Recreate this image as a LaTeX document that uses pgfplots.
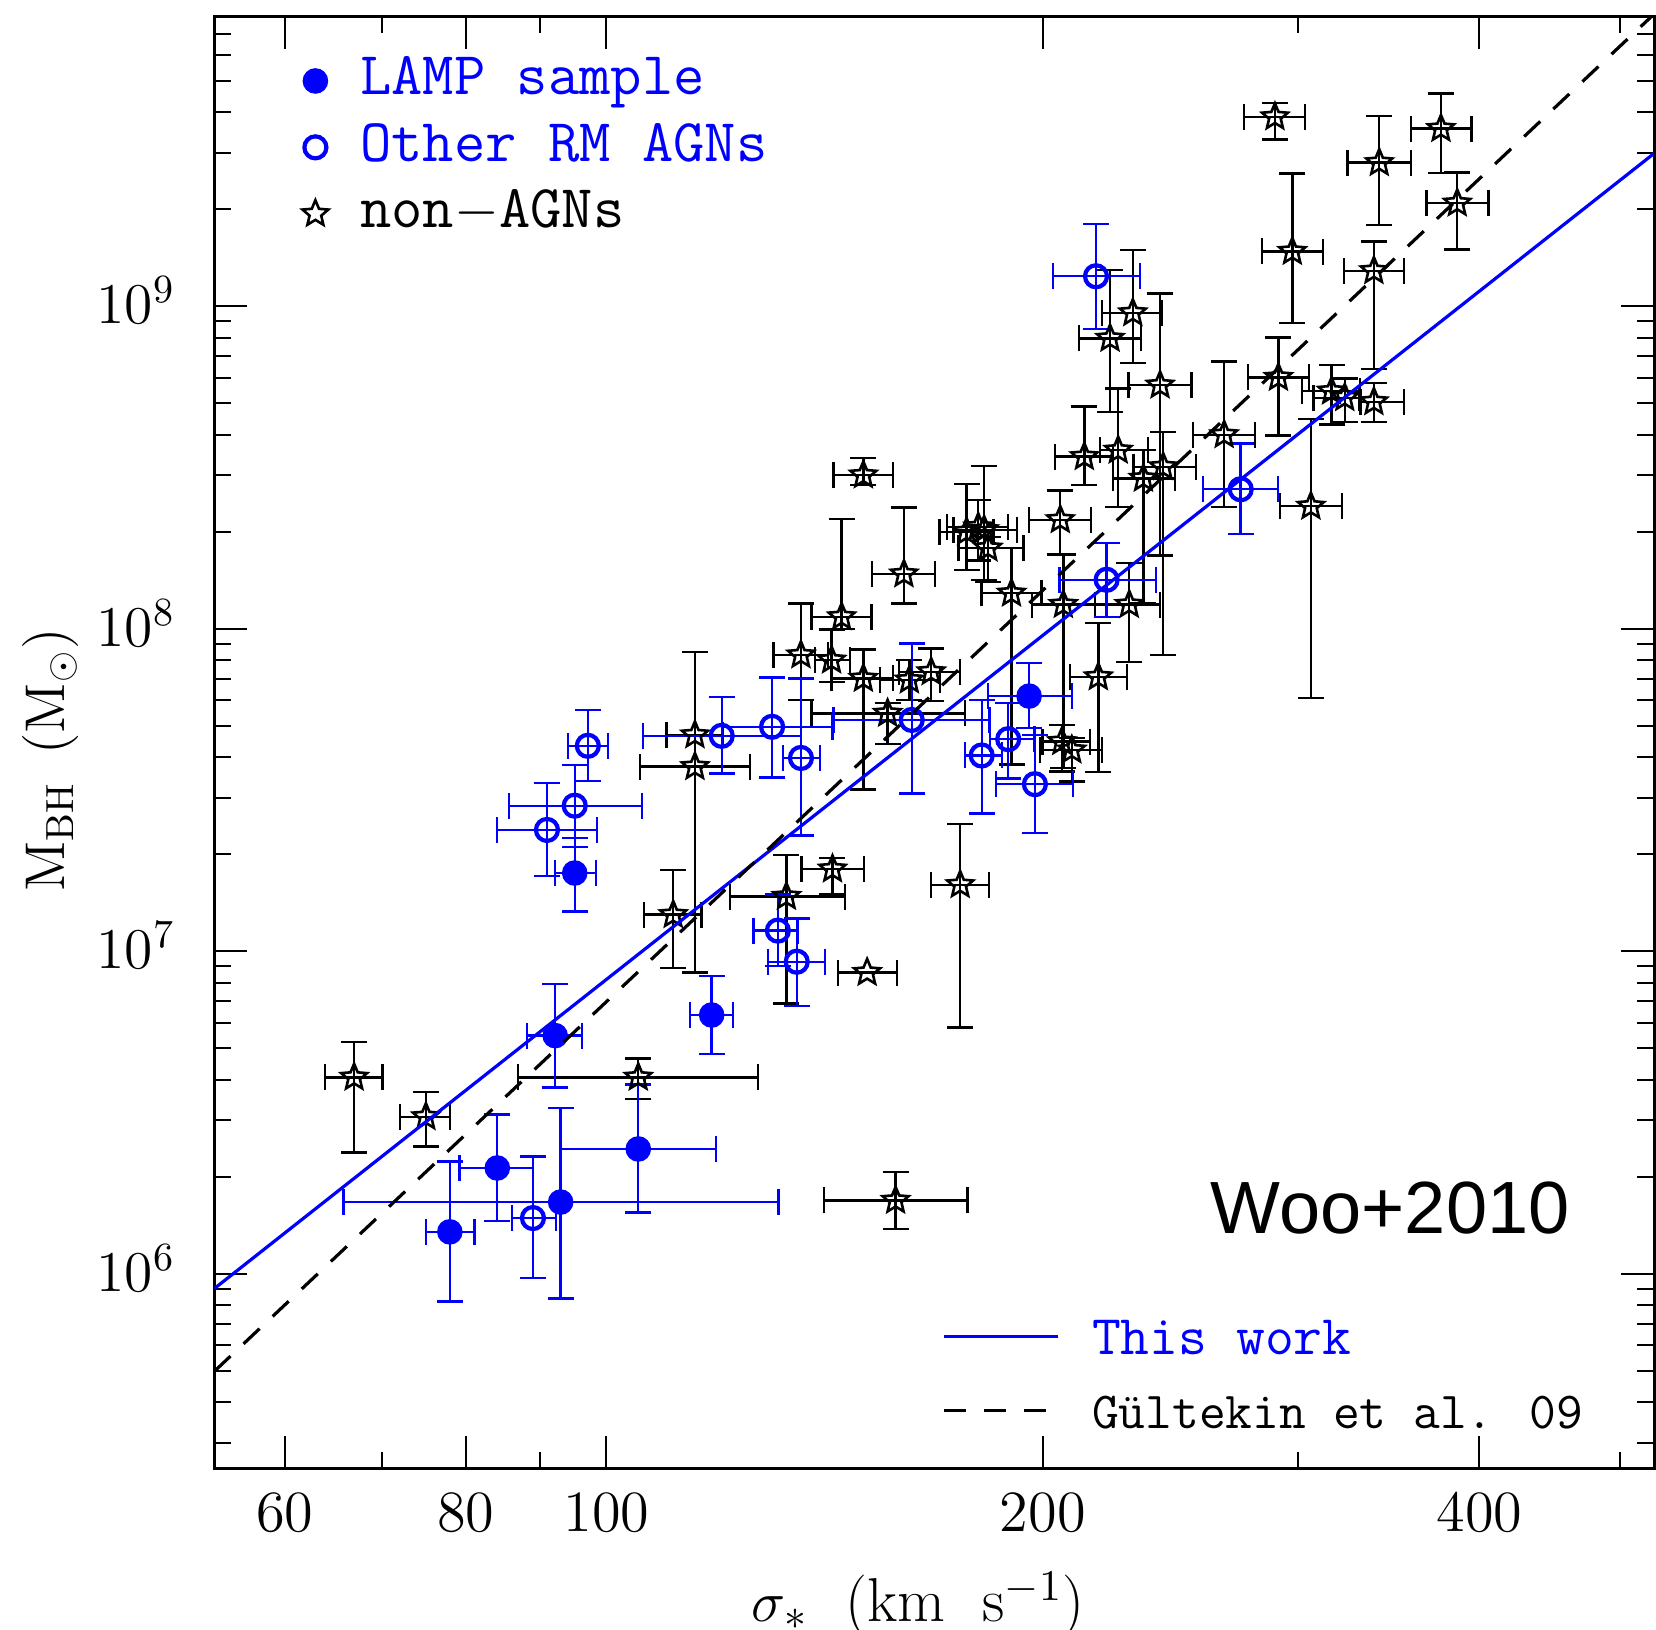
\documentclass[border=0pt]{standalone}
\usepackage{fontspec}
\usepackage{pgfplots}
\usepackage{pgfplotstable}
\pgfplotsset{compat=1.18}
\newfontfamily\arialfont{Liberation Sans}

\pgfdeclareplotmark{ostar}{%
  \pgfpathmoveto{\pgfpointpolar{90}{\pgfplotmarksize}}%
  \pgfpathlineto{\pgfpointpolar{126}{0.45\pgfplotmarksize}}%
  \pgfpathlineto{\pgfpointpolar{162}{\pgfplotmarksize}}%
  \pgfpathlineto{\pgfpointpolar{198}{0.45\pgfplotmarksize}}%
  \pgfpathlineto{\pgfpointpolar{234}{\pgfplotmarksize}}%
  \pgfpathlineto{\pgfpointpolar{270}{0.45\pgfplotmarksize}}%
  \pgfpathlineto{\pgfpointpolar{306}{\pgfplotmarksize}}%
  \pgfpathlineto{\pgfpointpolar{342}{0.45\pgfplotmarksize}}%
  \pgfpathlineto{\pgfpointpolar{18}{\pgfplotmarksize}}%
  \pgfpathlineto{\pgfpointpolar{54}{0.45\pgfplotmarksize}}%
  \pgfpathclose
  \pgfusepathqstroke
}

% LAMP sample
\pgfplotstableread{
s sm sp m mm mp
78.0 2.9 3.1 1.35e6 0.53e6 0.88e6
84.1 4.9 4.9 2.13e6 0.67e6 0.99e6
93.0 27.1 38.4 1.67e6 0.83e6 1.60e6
92.2 4.0 4.0 5.48e6 1.70e6 2.45e6
105.2 12.3 13.8 2.44e6 0.89e6 1.43e6
118.2 4.0 4.1 6.35e6 1.54e6 2.03e6
95.1 2.9 3.3 1.75e7 0.42e7 0.50e7
195.7 12.4 13.7 6.19e7 1.27e7 1.66e7
}\lamp

% Other RM AGNs
\pgfplotstableread{
s sm sp m mm mp
89.0 2.9 3.3 1.49e6 0.52e6 0.82e6
95.1 9.4 10.7 2.83e7 0.72e7 0.95e7
91.0 6.9 7.5 2.38e7 0.67e7 0.95e7
97.1 3.0 3.2 4.34e7 0.97e7 1.26e7
120.1 14.1 16.1 4.66e7 1.10e7 1.50e7
130.1 10.0 13.1 4.97e7 1.51e7 2.10e7
136.2 3.8 4.2 3.98e7 1.69e7 3.04e7
162.4 19.0 21.4 5.22e7 2.13e7 3.80e7
131.3 5.0 4.3 1.16e7 0.26e7 0.34e7
135.3 6.0 6.2 9.29e6 2.51e6 3.37e6
221.3 16.0 18.0 1.42e8 0.33e8 0.43e8
189.3 5.4 8.1 4.55e7 1.11e7 1.33e7
181.5 4.7 5.9 4.05e7 1.37e7 1.97e7
197.5 11.8 12.3 3.30e7 0.97e7 1.39e7
217.6 14.4 15.8 1.24e9 0.39e9 0.56e9
273.8 15.8 16.6 2.71e8 0.74e8 1.05e8
}\otherrm

% non-AGNs
\pgfplotstableread{
s sm sp m mm mp
67.0 3.0 3.1 4.07e6 1.69e6 1.17e6
75.1 3.0 2.9 3.07e6 0.59e6 0.60e6
105.2 18.3 22.0 4.07e6 0.59e6 0.59e6
111.2 5.0 5.1 1.30e7 0.41e7 0.49e7
115.1 5.1 5.3 4.69e7 3.83e7 3.80e7
115.1 9.6 10.5 3.74e7 0 0
133.1 11.4 13.0 1.48e7 0.79e7 0.51e7
143.2 6.9 7.3 1.80e7 0.30e7 0.15e7
151.3 6.8 7.3 8.6e6 0 0
158.3 17.0 19.2 1.69e6 0.31e6 0.38e6
175.4 7.9 8.2 1.61e7 1.03e7 0.87e7
150.4 7.0 7.2 3.00e8 0.21e8 0.39e8
160.4 7.9 8.1 1.48e8 0.28e8 0.90e8
145.3 6.8 7.1 1.09e8 0.09e8 1.10e8
136.2 5.8 6.0 8.30e7 2.29e7 3.70e7
143.0 3.7 4.2 8.00e7 1.15e7 1.96e7
150.4 7.4 7.3 7.02e7 3.84e7 1.62e7
156.3 17.8 20.5 5.47e7 1.08e7 0.43e7
161.8 7.4 8.1 6.94e7 0.92e7 1.07e7
167.5 8.3 7.9 7.36e7 1.38e7 1.34e7
177.2 7.5 7.7 2.00e8 0.48e8 0.81e8
180.5 8.8 8.8 2.07e8 0.44e8 0.44e8
182.2 8.7 9.7 2.03e8 0.61e8 1.17e8
183.3 8.4 10.7 1.78e8 0.38e8 0.15e8
190.3 8.8 9.3 1.29e8 0.91e8 0.49e8
205.6 9.9 10.2 2.18e8 0.48e8 0.51e8
206.6 10.1 10.7 1.19e8 0.82e8 0.51e8
218.4 9.6 10.1 7.10e7 3.50e7 3.32e7
229.4 12.1 11.5 1.19e8 0.40e8 0.41e8
206.1 6.2 9.4 4.47e7 0.86e7 0.56e7
209.4 10.3 10.2 4.21e7 0.85e7 0.38e7
213.6 9.7 10.0 3.42e8 0.63e8 1.47e8
225.4 6.4 10.9 3.58e8 1.19e8 1.99e8
234.6 11.0 12.1 2.93e8 1.73e8 0.65e8
242.1 11.2 12.9 3.18e8 2.35e8 0.90e8
230.7 11.1 10.8 9.55e8 2.87e8 5.40e8
222.5 10.6 11.2 7.96e8 3.25e8 5.00e8
240.9 11.8 12.4 5.70e8 4.01e8 5.27e8
290.7 13.6 14.6 6.02e8 2.04e8 2.00e8
266.7 12.8 13.5 4.00e8 1.61e8 2.74e8
306.1 14.6 15.4 2.40e8 1.79e8 2.07e8
289.1 13.9 14.1 3.87e9 0.58e9 0.41e9
297.2 13.9 14.7 1.48e9 0.59e9 1.10e9
341.2 16.9 17.5 2.79e9 1.00e9 1.10e9
376.3 17.5 18.8 3.56e9 0.97e9 1.01e9
386.2 18.3 19.5 2.09e9 0.59e9 0.51e9
338.3 15.7 16.6 1.29e9 0.65e9 0.30e9
316.3 14.6 14.6 5.46e8 1.16e8 1.11e8
323.0 15.7 7.6 5.21e8 0.83e8 0.77e8
338.3 7.1 16.6 5.06e8 0.67e8 0.72e8
}\nonagn

\begin{document}
\begin{tikzpicture}
\useasboundingbox (-53.6pt,-40.2pt) rectangle (360.4pt,367.1pt);
\begin{axis}[
  at={(0pt,0pt)}, anchor=south west,
  scale only axis, width=359.9pt, height=362.95pt,
  xmode=log, ymode=log,
  xmin=53.67, xmax=527.8, ymin=2.494e5, ymax=7.92e9,
  xtick={60,80,100,200,400},
  xticklabels={60,80,100,200,400},
  minor xtick={70,90,300,500},
  ytick={1e6,1e7,1e8,1e9},
  minor ytick={3e5,4e5,5e5,6e5,7e5,8e5,9e5,2e6,3e6,4e6,5e6,6e6,7e6,8e6,9e6,2e7,3e7,4e7,5e7,6e7,7e7,8e7,9e7,2e8,3e8,4e8,5e8,6e8,7e8,8e8,9e8,2e9,3e9,4e9,5e9,6e9,7e9},
  tick align=inside,
  major tick length=8.2pt, minor tick length=4.2pt,
  every tick/.append style={line width=0.5pt, black},
  axis line style={line width=0.75pt},
  tick label style={font=\fontsize{14.6}{16}\selectfont},
  xticklabel style={yshift=-2.5pt},
  yticklabel style={xshift=-6.3pt, yshift=1.5pt},
  xlabel={$\sigma_*$\ \ (km\ \ s$^{-1}$)},
  ylabel={M$_{\mathrm{BH}}$\ \,(M$_\odot$)},
  xlabel style={font=\fontsize{15.5}{18}\selectfont, at={(axis description cs:0.489,-0.1052)}, anchor=base},
  ylabel style={font=\fontsize{14}{16}\selectfont, at={(axis description cs:-0.1136,0.488)}, anchor=center},
  reverse legend,
  legend cell align=left,
  legend image code/.code={\draw[#1] plot coordinates {(0pt,0pt)};},
  legend style={draw=none, fill=none, at={(rel axis cs:0.0606,0.9755)}, anchor=north west,
     inner xsep=0pt, inner ysep=0pt, row sep=2.6pt, column sep=6pt,
     font=\ttfamily\fontsize{15.2}{16}\selectfont,
     nodes={inner xsep=2pt, inner ysep=1pt, text height=9.5pt, text depth=2.5pt}},
]
\addplot[only marks, black, mark=ostar, mark size=3.4pt, mark options={line width=0.65pt, solid},
  error bars/x dir=both, error bars/x explicit,
  error bars/y dir=both, error bars/y explicit,
  error bars/error bar style={line width=0.6pt},
  error bars/error mark options={rotate=90, mark size=3.25pt, line width=0.6pt}]
  table[x=s, y=m, x error minus=sm, x error plus=sp, y error minus=mm, y error plus=mp]{\nonagn};
\addlegendentry{non$-$AGNs}
\addplot[only marks, blue, mark=o, mark size=2.75pt, mark options={line width=1.05pt, solid},
  error bars/x dir=both, error bars/x explicit,
  error bars/y dir=both, error bars/y explicit,
  error bars/error bar style={line width=0.6pt},
  error bars/error mark options={rotate=90, mark size=3.25pt, line width=0.6pt}]
  table[x=s, y=m, x error minus=sm, x error plus=sp, y error minus=mm, y error plus=mp]{\otherrm};
\addlegendentry{\textcolor{blue}{Other RM AGNs}}
\addplot[only marks, blue, mark=*, mark size=3pt, mark options={solid},
  error bars/x dir=both, error bars/x explicit,
  error bars/y dir=both, error bars/y explicit,
  error bars/error bar style={line width=0.6pt},
  error bars/error mark options={rotate=90, mark size=3.25pt, line width=0.6pt}]
  table[x=s, y=m, x error minus=sm, x error plus=sp, y error minus=mm, y error plus=mp]{\lamp};
\addlegendentry{\textcolor{blue}{LAMP sample}}
\end{axis}
\begin{axis}[
  at={(0pt,0pt)}, anchor=south west,
  scale only axis, width=359.9pt, height=362.95pt,
  xmode=log, ymode=log,
  xmin=53.67, xmax=527.8, ymin=2.494e5, ymax=7.92e9,
  hide axis,
  legend cell align=left,
  legend image code/.code={\draw[#1] (0pt,0pt) -- (28.5pt,0pt);},
  legend style={draw=none, fill=none, at={(rel axis cs:0.5054,0.1105)}, anchor=north west,
     inner xsep=0pt, inner ysep=0pt, row sep=4.5pt, column sep=6pt,
     font=\ttfamily\fontsize{14}{16}\selectfont,
     nodes={inner sep=2pt, text height=9.5pt, text depth=0.5pt}},
]
\addplot[blue, line width=0.8pt] coordinates {(53.67,9.01e5) (527.8,2.98e9)};
\addlegendentry{\textcolor{blue}{This work}}
\addplot[black, line width=0.8pt, dash pattern=on 5.5pt off 4.5pt] coordinates {(53.67,4.99e5) (525.6,7.92e9)};
\addlegendentry{\fontsize{13}{15}\selectfont Gültekin et al. 09}
\node[anchor=base west, font=\arialfont\fontsize{18.5}{20}\selectfont, inner sep=0pt] at (rel axis cs:0.6916,0.1617) {Woo+2010};
\end{axis}
\end{tikzpicture}
\end{document}
